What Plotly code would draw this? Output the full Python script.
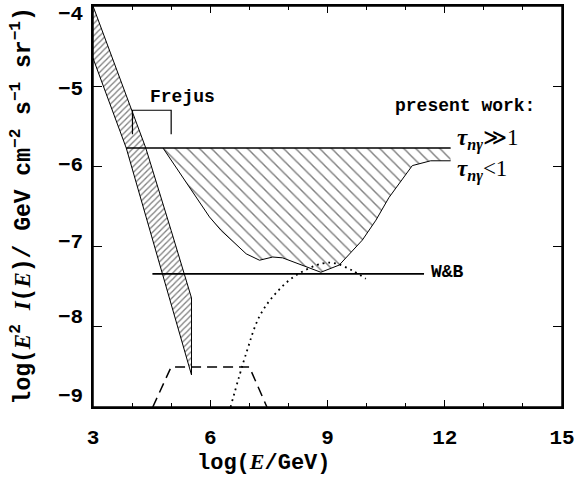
import plotly.graph_objects as go

# ---- data ----
band_right_x = [3.0, 4.35, 5.0, 5.52, 5.52]
band_right_y = [-4.0, -5.77, -6.80, -7.64, -8.60]
band_left_x = [3.0, 3.85, 4.45, 5.52]
band_left_y = [-4.65, -5.77, -6.80, -8.60]

top_x = [3.85, 12.15]
top_y = [-5.77, -5.77]

lower_x = [4.79, 5.34, 5.98, 6.28, 6.92, 7.26, 7.6, 7.85, 8.11, 8.83, 9.30, 9.89, 10.24, 10.57, 11.17, 11.64, 12.15]
lower_y = [-5.77, -6.16, -6.63, -6.80, -7.09, -7.17, -7.13, -7.14, -7.19, -7.32, -7.23, -6.92, -6.67, -6.39, -5.99, -5.93, -5.93]

wb_x = [4.52, 11.47]
wb_y = [-7.34, -7.34]

dot_x = [6.52, 6.92, 7.26, 7.68, 8.19, 8.87, 9.21, 9.64, 9.98]
dot_y = [-9.0, -8.33, -7.87, -7.58, -7.36, -7.21, -7.21, -7.30, -7.40]

dash_x = [4.53, 5.0, 7.0, 7.45]
dash_y = [-9.0, -8.50, -8.50, -9.0]

frejus_x = [4.01, 4.01, 5.0, 5.0]
frejus_y = [-5.60, -5.30, -5.30, -5.60]

x_ticks = [3, 6, 9, 12, 15]
y_ticks = [-4, -5, -6, -7, -8, -9]
# where the reference prints the y tick labels (slightly drawn in toward the middle)
y_label_pos = [-4.11, -5.04, -5.99, -6.95, -7.89, -8.87]

MONO = "Liberation Mono"
SERIF = "Liberation Serif"

fig = go.Figure()

# left hatched band
fig.add_trace(go.Scatter(
    x=band_right_x + band_left_x[::-1],
    y=band_right_y + band_left_y[::-1],
    mode="lines", fill="toself",
    fillcolor="rgba(0,0,0,0)",
    fillpattern=dict(shape="/", size=4.3, solidity=0.3, fgcolor="black", bgcolor="white"),
    line=dict(color="black", width=1), hoverinfo="skip", showlegend=False))

# present-work hatched region
fig.add_trace(go.Scatter(
    x=lower_x + [12.15, 4.79], y=lower_y + [-5.77, -5.77],
    mode="lines", fill="toself", fillcolor="rgba(0,0,0,0)",
    fillpattern=dict(shape="\\", size=8.5, solidity=0.17, fgcolor="black", bgcolor="white"),
    line=dict(color="rgba(0,0,0,0)", width=0), hoverinfo="skip", showlegend=False))
fig.add_trace(go.Scatter(x=lower_x, y=lower_y, mode="lines",
                         line=dict(color="black", width=1), showlegend=False))
fig.add_trace(go.Scatter(x=top_x, y=top_y, mode="lines",
                         line=dict(color="black", width=1.5), showlegend=False))

# W&B
fig.add_trace(go.Scatter(x=wb_x, y=wb_y, mode="lines",
                         line=dict(color="black", width=1.8), showlegend=False))
# dotted
fig.add_trace(go.Scatter(x=dot_x, y=dot_y, mode="lines", line_shape="spline",
                         line=dict(color="black", width=1.8, dash="1.8px,4px"), showlegend=False))
# dashed
fig.add_trace(go.Scatter(x=dash_x, y=dash_y, mode="lines",
                         line=dict(color="black", width=1.5, dash="10px,6px"), showlegend=False))
# Frejus bracket
fig.add_trace(go.Scatter(x=frejus_x, y=frejus_y, mode="lines",
                         line=dict(color="black", width=1.2), showlegend=False))

ann_font = dict(family=MONO, size=18, color="black", weight="bold")
tick_font = dict(family=MONO, size=21, color="black", weight="bold")
annotations = [
    dict(x=5.3, y=-5.14, text="Frejus", showarrow=False, font=ann_font, xanchor="center", yanchor="middle"),
    dict(x=14.36, y=-5.25, text="present work:", showarrow=False, font=ann_font, xanchor="right", yanchor="middle"),
    dict(x=11.6, y=-7.32, text="W&B", showarrow=False, font=ann_font, xanchor="left", yanchor="middle"),
    dict(x=12.27, y=-5.66, text="<b><i>τ</i></b><sub><b><i>nγ</i></b></sub>≫1", showarrow=False,
         font=dict(family=SERIF, size=23, color="black"), xanchor="left", yanchor="middle"),
    dict(x=12.27, y=-6.05, text="<b><i>τ</i></b><sub><b><i>nγ</i></b></sub><1", showarrow=False,
         font=dict(family=SERIF, size=23, color="black"), xanchor="left", yanchor="middle"),
    dict(xref="paper", yref="paper", x=0.365, y=-0.138,
         text="log(<span style='font-family:Liberation Serif'><i>E</i></span>/GeV)",
         showarrow=False, font=dict(family=MONO, size=22, color="black", weight="bold"),
         xanchor="center", yanchor="middle"),
    dict(xref="paper", yref="paper", x=-0.152, y=0.502, textangle=-90,
         text="log(<span style='font-family:Liberation Serif'><i>E</i></span><sup>2</sup> "
              "<span style='font-family:Liberation Serif'><i>I</i></span>(<span style='font-family:Liberation Serif'><i>E</i></span>)/ GeV cm<sup>−2</sup> s<sup>−1</sup> sr<sup>−1</sup>)",
         showarrow=False, font=dict(family=MONO, size=23, color="black", weight="bold"),
         xanchor="center", yanchor="middle"),
]
for v, p in zip(y_ticks, y_label_pos):
    annotations.append(dict(xref="paper", yref="y", x=-0.016, y=p, text="−" + str(abs(v)),
                            showarrow=False, font=tick_font, xanchor="right", yanchor="middle"))

fig.update_layout(
    width=579, height=478,
    margin=dict(l=93, r=16, t=4, b=71),
    paper_bgcolor="white", plot_bgcolor="white",
    annotations=annotations,
    shapes=[dict(type="rect", xref="paper", yref="paper", x0=0, x1=1, y0=0, y1=1,
                 line=dict(color="black", width=1.5), layer="above")],
    xaxis=dict(range=[3, 15], tickvals=x_ticks, ticktext=[str(v) for v in x_ticks],
               ticks="inside", ticklen=7, tickwidth=1.2, tickcolor="black",
               minor=dict(dtick=1, ticks="inside", ticklen=4, tickwidth=1.2, tickcolor="black", showgrid=False),
               showline=True, linecolor="black", linewidth=1.5, mirror="allticks",
               showgrid=False, zeroline=False, ticklabeloverflow="allow",
               tickfont=tick_font, ticklabelstandoff=10),
    yaxis=dict(range=[-9, -4], tickvals=y_ticks, showticklabels=False,
               ticks="inside", ticklen=9, tickwidth=1.2, tickcolor="black",
               showline=True, linecolor="black", linewidth=1.5, mirror="allticks",
               showgrid=False, zeroline=False),
)

fig.write_html("out.html", config={"displayModeBar": False},
               post_script="document.body.style.margin='0';document.body.style.padding='0';")
